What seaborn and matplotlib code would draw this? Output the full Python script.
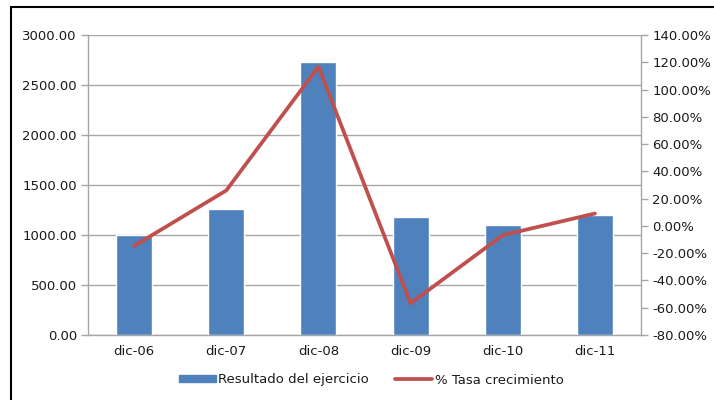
import matplotlib
matplotlib.use("Agg")
import matplotlib.pyplot as plt
import seaborn as sns
import numpy as np
import pandas as pd
from matplotlib.patches import Rectangle, Patch
from matplotlib.lines import Line2D
from matplotlib.ticker import FuncFormatter, MultipleLocator, FixedLocator

categories = ["dic-06", "dic-07", "dic-08", "dic-09", "dic-10", "dic-11"]
resultado = [1000, 1260, 2730, 1180, 1100, 1200]
tasa = [-14.7, 26.0, 116.7, -56.8, -6.8, 9.1]

sns.set_theme(style="white")
plt.rcParams['font.family'] = ['DejaVu Sans']

bar_color = "#4F81BD"
line_color = "#C0504D"
grid_color = "#A6A6A6"
text_color = "#1a1a1a"
fs = 9.5

fig = plt.figure(figsize=(7.14, 4.0), dpi=100)
ax = fig.add_axes([88/714, 65/400, (641-88)/714, 300/400])

df = pd.DataFrame({"cat": categories, "val": resultado})
sns.barplot(data=df, x="cat", y="val", color=bar_color, width=0.39,
            saturation=1, ax=ax, zorder=3)
ax.set_xlim(-0.5, 5.5)
ax.set_ylim(0, 3000)
ax.yaxis.set_major_locator(MultipleLocator(500))
ax.yaxis.set_major_formatter(FuncFormatter(lambda v, p: f"{v:.2f}"))
ax.grid(axis="y", color=grid_color, linewidth=1, zorder=0)
ax.set_axisbelow(True)
ax.set_xlabel("")
ax.set_ylabel("")
ax.xaxis.set_minor_locator(FixedLocator(np.arange(-0.5, 6.0, 1.0)))
ax.tick_params(axis="x", which="major", length=0, pad=7, labelsize=fs, labelcolor=text_color)
ax.tick_params(axis="x", which="minor", length=5, color=grid_color, width=1, direction="out")
ax.tick_params(axis="y", which="major", length=5, color=grid_color, width=1, direction="out",
               labelsize=fs, labelcolor=text_color, left=True, pad=3)
for s in ["top", "right"]:
    ax.spines[s].set_visible(False)
for s in ["left", "bottom"]:
    ax.spines[s].set_color(grid_color)
    ax.spines[s].set_linewidth(1)

ax2 = ax.twinx()
sns.lineplot(x=np.arange(len(categories)), y=tasa, color=line_color, linewidth=2.7,
             ax=ax2, zorder=4)
ax2.set_ylim(-80, 140)
ax2.yaxis.set_major_locator(MultipleLocator(20))
ax2.yaxis.set_major_formatter(FuncFormatter(lambda v, p: f"{v:.2f}%"))
ax2.tick_params(axis="y", length=5, color=grid_color, width=1, direction="out",
                labelsize=fs, labelcolor=text_color, right=True, pad=3)
ax2.set_ylabel("")
for s in ["top", "left", "bottom"]:
    ax2.spines[s].set_visible(False)
ax2.spines["right"].set_color(grid_color)
ax2.spines["right"].set_linewidth(1)
ax2.grid(False)

handles = [Patch(facecolor=bar_color, edgecolor=bar_color),
           Line2D([0], [0], color=line_color, linewidth=2.7)]
labels = ["Resultado del ejercicio", "% Tasa crecimiento"]
fig.legend(handles, labels, loc="center", bbox_to_anchor=(0.52, 0.05), ncol=2,
           frameon=False, fontsize=fs, handlelength=2.8, handleheight=0.4,
           handletextpad=0.2, columnspacing=2.0, labelcolor=text_color)

border = Rectangle((11/714, -0.1), 1.2, (400-7)/400 + 0.1, transform=fig.transFigure,
                   fill=False, edgecolor="black", linewidth=1.5)
fig.patches.append(border)

fig.savefig("out.png", dpi=100)
